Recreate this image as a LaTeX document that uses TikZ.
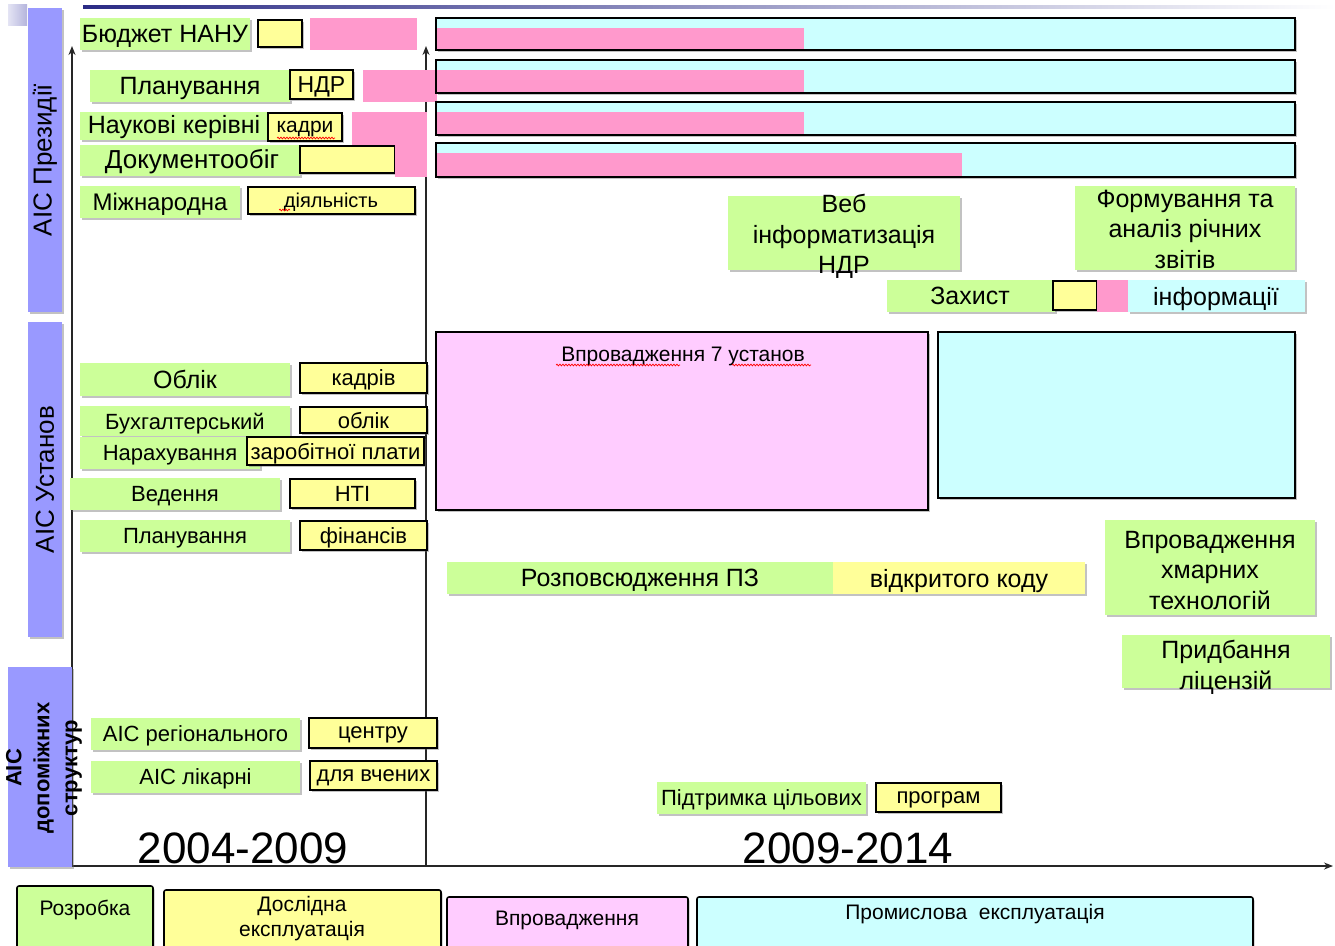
\documentclass[tikz,border=0pt]{standalone}
\usepackage{fontspec}
\setmainfont{Liberation Sans}
\usetikzlibrary{arrows.meta,shadows,fit,decorations.pathmorphing}

\definecolor{grn}{HTML}{CCFF99}
\definecolor{ylw}{HTML}{FFFF99}
\definecolor{pnk}{HTML}{FF99CC}
\definecolor{lpk}{HTML}{FFCCFF}
\definecolor{cyn}{HTML}{CCFFFF}
\definecolor{vio}{HTML}{9999FF}
\definecolor{navy}{HTML}{2B2B85}
\definecolor{lavA}{HTML}{E4E4F4}
\definecolor{lavB}{HTML}{B4B4DC}

\begin{document}
\begin{tikzpicture}[x=1pt,y=-1pt,
  every node/.style={inner sep=0pt,outer sep=0pt,text depth=0pt},
  shad/.style={drop shadow={shadow xshift=1.5pt,shadow yshift=-1.8pt,opacity=.4,fill=black!60}},
  gbox/.style={fill=grn,shad},
  ybox/.style={fill=ylw,shad},
  ybord/.style={fill=ylw,draw=black,line width=2.2pt,shad},
  pbar/.style={fill=pnk},
  cbox/.style={fill=cyn,shad},
  cbord/.style={fill=cyn,draw=black,line width=2pt,shad},
  lpbord/.style={fill=lpk,draw=black,line width=2pt,shad},
  vbox/.style={fill=vio,shad},
  vtxt/.style={rotate=90,text depth=},
  lgd/.style={draw=black,line width=1.6pt,rounded corners=2pt,shad},
  axis/.style={line width=2.4pt,black!85,-{Stealth[length=9pt,width=7pt]}},
  sq/.style={red,line width=.7pt,decorate,decoration={snake,amplitude=.9pt,segment length=3pt}},
  f20/.style={font=\fontsize{20}{24}\selectfont},
  f21/.style={font=\fontsize{21}{25}\selectfont},
  f22/.style={font=\fontsize{22}{26}\selectfont},
  f22b/.style={font=\fontsize{22}{28}\selectfont\bfseries},
  f23/.style={font=\fontsize{23}{27}\selectfont},
  f24/.style={font=\fontsize{24}{29}\selectfont},
  f25/.style={font=\fontsize{25}{30.5}\selectfont},
  f26/.style={font=\fontsize{26}{31}\selectfont},
  f44/.style={font=\fontsize{44}{50}\selectfont}]
\useasboundingbox (0,0) rectangle (1335,945);
\clip (0,0) rectangle (1335,945);

% --- slide decoration
\shade[left color=lavA,right color=lavB] (8,4) rectangle (27,25);
\shade[left color=navy,right color=white] (83,5) rectangle (1335,8);

% --- time axes
\coordinate (o) at (72,866);
\coordinate (ytop) at (72,46);
\coordinate (mbot) at (426,866);
\coordinate (mtop) at (426,46);
\coordinate (xend) at (1333,866);
\draw[axis] (o) -- (ytop);
\draw[axis] (mbot) -- (mtop);
\draw[axis] (o) -- (xend);

% --- АІС Президії
\node[vbox,fit={(28,8)(62,312)}] (presbox) {};
\node[f26,vtxt] (pres) at (presbox.center) {АІС Президії};

\node[gbox,fit={(80,18)(250,50)}] (budg) {};
\node[f25] (budgt) at (budg) {Бюджет НАНУ};
\node[ybord,fit={(258,20)(302,47)}] (budgy) {};
\node[pbar,fit={(310,18)(417,50)}] (budgp) {};

\node[gbox,fit={(90,70)(290,102)}] (plan) {};
\node[f25] (plant) at (plan) {Планування};
\node[ybord,fit={(290,70)(353,99)}] (plany) {};
\node[f23] (planyt) at (plany) {НДР};
\node[pbar,fit={(363,70)(437,102)}] (planp) {};

\node[gbox,fit={(80,112)(267,140)}] (kerv) {};
\node[f25] (kervt) at (174,124) {Наукові керівні};
\node[ybord,fit={(268,113)(342,141)}] (kervy) {};
\node[f21] (kervyt) at (kervy) {кадри};
\node[pbar,fit={(352,112)(427,145)}] (kervp) {};
\draw[sq] (277,138) -- (335,138); % --- spell check mark

\node[gbox,fit={(80,145)(300,176)}] (doc) {};
\node[f26] (doct) at (192,159) {Документообіг};
\node[ybord,fit={(300,146)(395,173)}] (docy) {};
\node[pbar,fit={(395,144)(427,177)}] (docp) {};

\node[gbox,fit={(80,186)(240,218)}] (intl) {};
\node[f24] (intlt) at (intl) {Міжнародна};
\node[ybord,fit={(248,187)(415,214)}] (intly) {};
\node[f20] (intlyt) at (331,200) {діяльність};
\draw[sq] (279,210) -- (290,210);

% --- rows of the second period
\node[cbord,fit={(436,18)(1295,50)}] (r1) {};
\node[pbar,fit={(437,28)(804,49)}] (r1p) {};
\node[cbord,fit={(436,60)(1295,93)}] (r2) {};
\node[pbar,fit={(437,70)(804,92)}] (r2p) {};
\node[cbord,fit={(436,102)(1295,135)}] (r3) {};
\node[pbar,fit={(437,112)(804,134)}] (r3p) {};
\node[cbord,fit={(436,143)(1295,177)}] (r4) {};
\node[pbar,fit={(437,153)(962,176)}] (r4p) {};

\node[gbox,fit={(728,196)(960,270)}] (web) {};
\node[f25,align=center] (webt) at (844,234) {Веб\\інформатизація\\НДР};
\node[gbox,fit={(1075,186)(1295,270)}] (form) {};
\node[f25,align=center] (formt) at (1185,229) {Формування та\\аналіз річних\\звітів};

\node[gbox,fit={(887,280)(1055,312)}] (prot) {};
\node[f25] (prott) at (970,296) {Захист};
\node[ybord,fit={(1053,281)(1097,310)}] (proty) {};
\node[pbar,fit={(1097,280)(1128,312)}] (protp) {};
\node[cbox,fit={(1128,280)(1305,312)}] (proti) {};
\node[f25] (protit) at (1216,296) {інформації};

% --- АІС Установ
\node[vbox,fit={(28,322)(62,637)}] (instbox) {};
\node[f26,vtxt] (inst) at (instbox.center) {АІС Установ};

\node[lpbord,fit={(436,332)(928,510)}] (impl) {};
\node[f21] (implt) at (683,354) {Впровадження 7 установ};
\draw[sq] (556,365) -- (680,365);
\draw[sq] (732,365) -- (811,365);
\node[cbord,fit={(938,332)(1295,498)}] (indu) {};

\node[gbox,fit={(80,363)(290,396)}] (acc) {};
\node[f25] (acct) at (acc) {Облік};
\node[ybord,fit={(300,363)(427,393)}] (accy) {};
\node[f22] (accyt) at (accy) {кадрів};
\node[gbox,fit={(80,406)(290,436)}] (book) {};
\node[f22] (bookt) at (book) {Бухгалтерський};
\node[ybord,fit={(300,407)(427,433)}] (booky) {};
\node[f22] (bookyt) at (booky) {облік};
\node[gbox,fit={(80,437)(260,469)}] (pay) {};
\node[f22] (payt) at (170,453) {Нарахування};
\node[ybord,fit={(247,437)(424,465)}] (payy) {};
\node[f22] (payyt) at (payy) {заробітної плати};
\node[gbox,fit={(70,478)(280,510)}] (keep) {};
\node[f22] (keept) at (keep) {Ведення};
\node[ybord,fit={(290,479)(415,508)}] (keepy) {};
\node[f22] (keepyt) at (keepy) {НТІ};
\node[gbox,fit={(80,520)(290,552)}] (fin) {};
\node[f22] (fint) at (fin) {Планування};
\node[ybord,fit={(300,521)(427,550)}] (finy) {};
\node[f22] (finyt) at (finy) {фінансів};

\node[gbox,fit={(447,562)(833,594)}] (oss) {};
\node[f25] (osst) at (oss) {Розповсюдження ПЗ};
\node[ybox,fit={(833,562)(1085,594)}] (ossy) {};
\node[f25] (ossyt) at (ossy) {відкритого коду};
\node[gbox,fit={(1105,520)(1315,615)}] (cloud) {};
\node[f25,align=center] (cloudt) at (1210,570) {Впровадження\\хмарних\\технологій};
\node[gbox,fit={(1122,635)(1330,688)}] (lic) {};
\node[f25,align=center] (lict) at (1226,665) {Придбання\\ліцензій};

% --- АІС допоміжних структур
\node[vbox,fit={(8,667)(72,867)}] (auxbox) {};
\node[f22b,vtxt,align=center] (aux) at (44,768) {АІС\\допоміжних\\структур};

\node[gbox,fit={(91,718)(300,750)}] (reg) {};
\node[f22] (regt) at (reg) {АІС регіонального};
\node[ybord,fit={(309,718)(437,748)}] (regy) {};
\node[f22] (regyt) at (regy) {центру};
\node[gbox,fit={(91,761)(300,793)}] (hosp) {};
\node[f22] (hospt) at (hosp) {АІС лікарні};
\node[ybord,fit={(310,761)(437,790)}] (hospy) {};
\node[f22] (hospyt) at (hospy) {для вчених};
\node[gbox,fit={(657,782)(866,814)}] (tgt) {};
\node[f22] (tgtt) at (tgt) {Підтримка цільових};
\node[ybord,fit={(876,783)(1001,812)}] (tgty) {};
\node[f22] (tgtyt) at (tgty) {програм};

% --- periods
\node[f44,anchor=base] (per1) at (243,863) {2004-2009};
\node[f44,anchor=base] (per2) at (848,863) {2009-2014};

% --- legend
\node[lgd,fill=grn,fit={(17,886)(153,965)}] (lg1) {};
\node[f21] (lg1t) at (85,908) {Розробка};
\node[lgd,fill=ylw,fit={(164,890)(441,965)}] (lg2) {};
\node[f21,align=center] (lg2t) at (302,916) {Дослідна\\експлуатація};
\node[lgd,fill=lpk,fit={(447,897)(688,965)}] (lg3) {};
\node[f21] (lg3t) at (567,918) {Впровадження};
\node[lgd,fill=cyn,fit={(697,897)(1253,965)}] (lg4) {};
\node[f21] (lg4t) at (975,912) {Промислова\ \ експлуатація};
\end{tikzpicture}
\end{document}
